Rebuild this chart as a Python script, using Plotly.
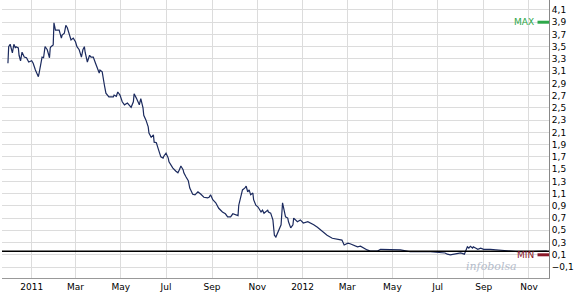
import plotly.graph_objects as go

dates = [
    "2010-11-30", "2010-12-01", "2010-12-03", "2010-12-05", "2010-12-06", "2010-12-08", "2010-12-10",
    "2010-12-11", "2010-12-14", "2010-12-15", "2010-12-17", "2010-12-19", "2010-12-22", "2010-12-25",
    "2010-12-28", "2011-01-01", "2011-01-03", "2011-01-06", "2011-01-09", "2011-01-10", "2011-01-11",
    "2011-01-14", "2011-01-15", "2011-01-17", "2011-01-18", "2011-01-19", "2011-01-22", "2011-01-25",
    "2011-01-26", "2011-01-27", "2011-01-30", "2011-01-31", "2011-02-02", "2011-02-04", "2011-02-07",
    "2011-02-10", "2011-02-11", "2011-02-14", "2011-02-16", "2011-02-18", "2011-02-21", "2011-02-23",
    "2011-02-26", "2011-03-01", "2011-03-03", "2011-03-06", "2011-03-09", "2011-03-11", "2011-03-13",
    "2011-03-14", "2011-03-17", "2011-03-20", "2011-03-22", "2011-03-25", "2011-03-28", "2011-03-30",
    "2011-04-02", "2011-04-03", "2011-04-06", "2011-04-09", "2011-04-11", "2011-04-15", "2011-04-21",
    "2011-04-22", "2011-04-25", "2011-04-27", "2011-04-30", "2011-05-03", "2011-05-06", "2011-05-10",
    "2011-05-12", "2011-05-15", "2011-05-18", "2011-05-19", "2011-05-22", "2011-05-24", "2011-05-26",
    "2011-05-28", "2011-05-31", "2011-06-01", "2011-06-04", "2011-06-07", "2011-06-08", "2011-06-11",
    "2011-06-14", "2011-06-15", "2011-06-18", "2011-06-20", "2011-06-22", "2011-06-24", "2011-06-27",
    "2011-06-28", "2011-07-01", "2011-07-04", "2011-07-05", "2011-07-08", "2011-07-10", "2011-07-14",
    "2011-07-17", "2011-07-19", "2011-07-21", "2011-07-24", "2011-07-25", "2011-07-28", "2011-07-31",
    "2011-08-02", "2011-08-04", "2011-08-06", "2011-08-09", "2011-08-13", "2011-08-17", "2011-08-21",
    "2011-08-26", "2011-08-28", "2011-08-30", "2011-09-02", "2011-09-06", "2011-09-10", "2011-09-15",
    "2011-09-19", "2011-09-22", "2011-09-26", "2011-09-29", "2011-10-03", "2011-10-06", "2011-10-07",
    "2011-10-10", "2011-10-12", "2011-10-15", "2011-10-17", "2011-10-19", "2011-10-21", "2011-10-23",
    "2011-10-26", "2011-10-27", "2011-10-30", "2011-11-02", "2011-11-03", "2011-11-06", "2011-11-08",
    "2011-11-10", "2011-11-12", "2011-11-15", "2011-11-16", "2011-11-19", "2011-11-22", "2011-11-24",
    "2011-11-26", "2011-11-30", "2011-12-03", "2011-12-05", "2011-12-07", "2011-12-09", "2011-12-12",
    "2011-12-13", "2011-12-16", "2011-12-19", "2011-12-20", "2011-12-25", "2011-12-29", "2012-01-02",
    "2012-01-08", "2012-01-12", "2012-01-16", "2012-01-21", "2012-01-25", "2012-01-29", "2012-02-03",
    "2012-02-10", "2012-02-14", "2012-02-18", "2012-02-23", "2012-02-26", "2012-03-02", "2012-03-05",
    "2012-03-09", "2012-03-15", "2012-03-19", "2012-03-23", "2012-03-28", "2012-04-01", "2012-04-11",
    "2012-04-15", "2012-04-22", "2012-04-28", "2012-05-05", "2012-05-12", "2012-05-25", "2012-06-08",
    "2012-06-21", "2012-07-11", "2012-07-14", "2012-07-18", "2012-07-25", "2012-08-01", "2012-08-06",
    "2012-08-08", "2012-08-10", "2012-08-12", "2012-08-14", "2012-08-17", "2012-08-18", "2012-08-21",
    "2012-08-24", "2012-08-28", "2012-09-01", "2012-09-10", "2012-09-20", "2012-10-03", "2012-10-11",
    "2012-10-18", "2012-10-27", "2012-11-03", "2012-11-12", "2012-11-20", "2012-11-25",
]

prices = [
    3.23, 3.50, 3.54, 3.45, 3.40, 3.54, 3.48,
    3.50, 3.48, 3.36, 3.27, 3.41, 3.33, 3.32,
    3.25, 3.27, 3.23, 3.12, 3.04, 3.01, 3.07,
    3.32, 3.33, 3.32, 3.40, 3.50, 3.45, 3.32,
    3.48, 3.50, 3.53, 3.89, 3.77, 3.77, 3.77,
    3.64, 3.69, 3.72, 3.85, 3.81, 3.69, 3.61,
    3.64, 3.58, 3.50, 3.45, 3.33, 3.45, 3.50,
    3.41, 3.25, 3.36, 3.33, 3.33, 3.23, 3.15,
    3.07, 3.12, 3.09, 2.87, 2.74, 2.68, 2.68,
    2.71, 2.69, 2.76, 2.71, 2.60, 2.55, 2.58,
    2.55, 2.51, 2.60, 2.73, 2.66, 2.60, 2.55,
    2.65, 2.50, 2.38, 2.30, 2.19, 2.09, 2.02,
    2.06, 1.94, 1.93, 1.85, 1.78, 1.70, 1.68,
    1.71, 1.76, 1.68, 1.62, 1.55, 1.52, 1.47,
    1.44, 1.49, 1.55, 1.49, 1.44, 1.37, 1.31,
    1.19, 1.13, 1.09, 1.08, 1.13, 1.09, 1.04,
    1.03, 1.04, 1.08, 1.00, 0.95, 0.86, 0.80,
    0.77, 0.72, 0.72, 0.77, 0.75, 0.74, 0.91,
    1.08, 1.16, 1.19, 1.22, 1.13, 1.16, 1.08,
    1.11, 1.00, 0.91, 0.88, 0.86, 0.80, 0.83,
    0.78, 0.80, 0.83, 0.80, 0.78, 0.67, 0.42,
    0.39, 0.51, 0.59, 0.95, 0.83, 0.72, 0.70,
    0.64, 0.54, 0.59, 0.70, 0.64, 0.67, 0.62,
    0.64, 0.62, 0.59, 0.55, 0.51, 0.47, 0.42,
    0.37, 0.36, 0.34, 0.34, 0.26, 0.29, 0.28,
    0.26, 0.23, 0.24, 0.21, 0.18, 0.16, 0.16,
    0.19, 0.19, 0.19, 0.18, 0.18, 0.15, 0.15,
    0.15, 0.13, 0.11, 0.10, 0.11, 0.13, 0.11,
    0.18, 0.23, 0.21, 0.24, 0.21, 0.23, 0.21,
    0.19, 0.21, 0.19, 0.19, 0.18, 0.16, 0.16,
    0.15, 0.15, 0.15, 0.15, 0.16, 0.16,
]

tick_dates = ["2011-01-01", "2011-03-01", "2011-05-01", "2011-07-01", "2011-09-01", "2011-11-01",
              "2012-01-01", "2012-03-01", "2012-05-01", "2012-07-01", "2012-09-01", "2012-11-01"]
tick_labels = ["2011", "Mar", "May", "Jul", "Sep", "Nov", "2012", "Mar", "May", "Jul", "Sep", "Nov"]
y_ticks = [round(-0.1 + 0.2 * i, 1) for i in range(22)]

max_value = 3.90
min_value = 0.10
ref_value = 0.16

fig = go.Figure()
fig.add_trace(go.Scatter(
    x=dates, y=prices, mode="lines",
    line=dict(color="#1b2a5e", width=1.2),
    hoverinfo="skip", showlegend=False,
))

fig.add_shape(type="line", xref="paper", yref="y", x0=0, x1=1, y0=ref_value, y1=ref_value,
              line=dict(color="#000000", width=1.5))
fig.add_shape(type="line", xref="paper", yref="y", x0=0.979, x1=1, y0=max_value, y1=max_value,
              line=dict(color="#2ea84a", width=3))
fig.add_shape(type="line", xref="paper", yref="y", x0=0.979, x1=1, y0=min_value, y1=min_value,
              line=dict(color="#8a1828", width=3))

fig.add_annotation(xref="paper", yref="y", x=0.977, y=max_value, text="MAX", showarrow=False,
                   xanchor="right", yanchor="middle",
                   font=dict(family="DejaVu Sans", size=9, color="#2ea84a"))
fig.add_annotation(xref="paper", yref="y", x=0.977, y=min_value, text="MIN", showarrow=False,
                   xanchor="right", yanchor="middle",
                   font=dict(family="DejaVu Sans", size=9, color="#8a1828"))
fig.add_annotation(xref="paper", yref="paper", x=0.895, y=0.04, text="<i>infobolsa</i>",
                   showarrow=False, xanchor="center", yanchor="middle",
                   font=dict(family="DejaVu Serif", size=11, color="#b4bccb"))

fig.update_layout(
    width=575, height=295,
    margin=dict(l=2, r=26, t=0, b=17),
    paper_bgcolor="white", plot_bgcolor="white",
    separators=", ",
    font=dict(family="DejaVu Sans", size=9, color="#000000"),
    xaxis=dict(
        range=["2010-11-22", "2012-11-28"],
        tickvals=tick_dates, ticktext=tick_labels,
        showgrid=True, gridcolor="#dcdcdc", gridwidth=1,
        showline=True, linecolor="#999999", linewidth=1,
        ticks="", tickfont=dict(size=9, color="#000000"),
        zeroline=False, fixedrange=True,
    ),
    yaxis=dict(
        side="right",
        range=[-0.279, 4.263],
        tickvals=y_ticks, tickformat=".1f",
        showgrid=True, gridcolor="#dcdcdc", gridwidth=1,
        showline=True, linecolor="#888888", linewidth=1,
        ticks="", ticklen=0, tickfont=dict(size=9, color="#000000"),
        zeroline=False, fixedrange=True,
    ),
)

fig.write_html("out.html")
